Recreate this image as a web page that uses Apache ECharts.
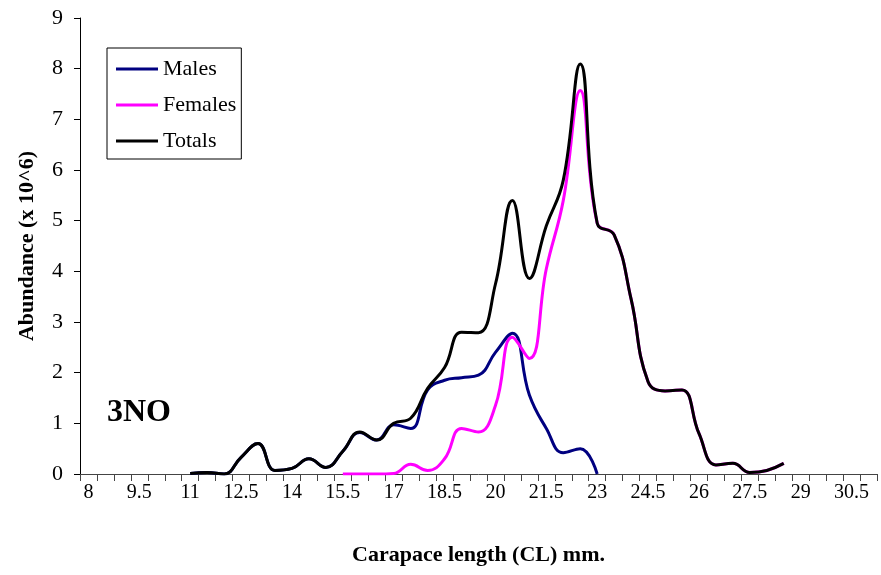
<!DOCTYPE html>
<html>
<head>
<meta charset="utf-8">
<script src="https://cdn.jsdelivr.net/npm/echarts@6/dist/echarts.min.js"></script>
<style>
  html, body { margin: 0; padding: 0; background: #fff; }
  #chart { width: 881px; height: 575px; }
</style>
</head>
<body>
<div id="chart"></div>
<script>
// carapace length classes, 0.5 mm steps
const firstClass = 8;
const lastClass = 31;
const categories = [];
for (let i = 0; firstClass + i * 0.5 <= lastClass; i++) {
  categories.push(String(firstClass + i * 0.5));
}

// abundance (x 10^6), each series starts at its own length class
const malesStart = 11;
const males = [0.01, 0.03, 0, 0.33, 0.6, 0.07, 0.11, 0.3, 0.13, 0.45, 0.82, 0.67,
  0.97, 0.9, 1.66, 1.85, 1.9, 1.95, 2.4, 2.78, 1.56, 0.9, 0.42, 0.5, 0];

const femalesStart = 15.5;
const females = [0, 0, 0, 0.01, 0.19, 0.07, 0.3, 0.9, 0.83, 1.35, 2.7, 2.28, 4.05,
  5.4, 7.57, 4.95, 4.72, 3.45, 1.82, 1.64, 1.66, 0.8, 0.18, 0.21, 0.03, 0.07, 0.21];

const totalsStart = 11;
const totals = [0.01, 0.03, 0, 0.33, 0.6, 0.07, 0.11, 0.3, 0.13, 0.45, 0.83, 0.67,
  1.0, 1.1, 1.69, 2.1, 2.8, 2.79, 3.75, 5.4, 3.86, 4.9, 5.8, 8.09, 4.95, 4.72,
  3.45, 1.82, 1.64, 1.66, 0.8, 0.18, 0.21, 0.03, 0.07, 0.21];

const yTicks = [0, 1, 2, 3, 4, 5, 6, 7, 8, 9];

// put a short list onto the full category range
const spread = (start, values) => {
  const out = categories.map(() => null);
  const k = categories.indexOf(String(start));
  values.forEach((v, i) => { out[k + i] = v; });
  return out;
};

const serif = 'Liberation Serif';

var chartDom = document.getElementById('chart');
var myChart = echarts.init(chartDom);
var option;

const lineSeries = (name, start, values, color) => ({
  name: name,
  type: 'line',
  data: spread(start, values),
  smooth: 0.45,
  showSymbol: false,
  symbol: 'none',
  lineStyle: { color: color, width: 3 },
  itemStyle: { color: color },
  emphasis: { disabled: true }
});

option = {
  animation: false,
  backgroundColor: '#fff',
  textStyle: { fontFamily: serif },
  title: {
    text: '3NO',
    left: 107,
    top: 397,
    padding: 0,
    textStyle: { fontFamily: serif, fontWeight: 'bold', fontSize: 32, color: '#000' }
  },
  legend: {
    orient: 'vertical',
    left: 107,
    top: 48,
    padding: [10, 5, 7, 9],
    itemGap: 14,
    itemWidth: 42,
    itemHeight: 3,
    icon: 'rect',
    borderColor: '#000',
    borderWidth: 1,
    textStyle: { fontFamily: serif, fontSize: 22, color: '#000', padding: [0, 0, 0, 0] },
    data: ['Males', 'Females', 'Totals']
  },
  grid: {
    left: 80,
    right: 4,
    top: 18,
    bottom: 101,
    containLabel: false
  },
  xAxis: {
    type: 'category',
    data: categories,
    boundaryGap: true,
    name: 'Carapace length (CL) mm.',
    nameLocation: 'middle',
    nameGap: 70,
    nameTextStyle: { fontFamily: serif, fontWeight: 'bold', fontSize: 22, color: '#000' },
    axisLine: { lineStyle: { color: '#444', width: 1 } },
    axisTick: { show: true, interval: 0, length: 7, lineStyle: { color: '#444' } },
    axisLabel: { interval: 2, margin: 9, fontFamily: serif, fontSize: 20, color: '#000' },
    splitLine: { show: false }
  },
  yAxis: {
    type: 'value',
    min: yTicks[0],
    max: yTicks[yTicks.length - 1],
    interval: 1,
    name: 'Abundance (x 10^6)',
    nameLocation: 'middle',
    nameRotate: 90,
    nameGap: 42,
    nameTextStyle: { fontFamily: serif, fontWeight: 'bold', fontSize: 22, color: '#000' },
    axisLine: { show: true, lineStyle: { color: '#000', width: 1 } },
    axisTick: { show: true, length: 6, lineStyle: { color: '#000' } },
    axisLabel: { margin: 17, fontFamily: serif, fontSize: 22, color: '#000' },
    splitLine: { show: false }
  },
  series: [
    lineSeries('Males', malesStart, males, '#000080'),
    lineSeries('Females', femalesStart, females, '#ff00ff'),
    lineSeries('Totals', totalsStart, totals, '#000000')
  ]
};

option && myChart.setOption(option);
</script>
</body>
</html>
